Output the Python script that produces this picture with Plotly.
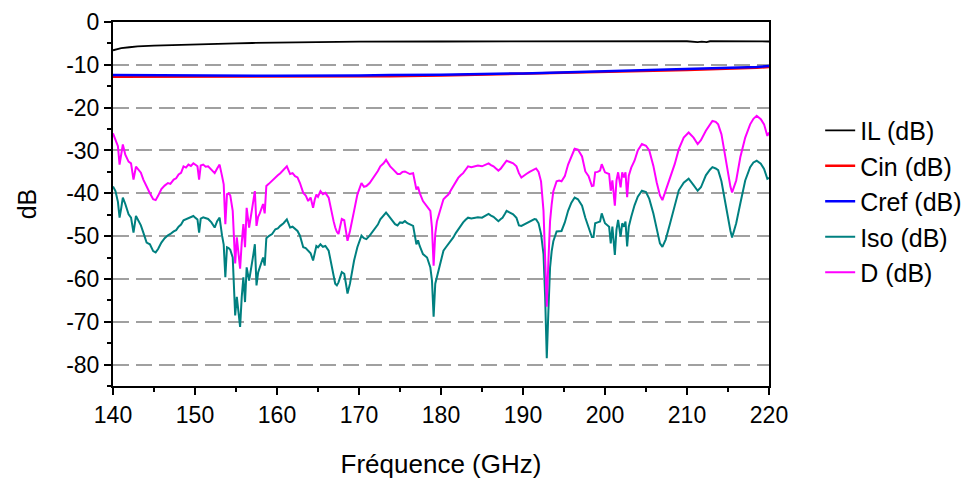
import plotly.graph_objects as go

# insertion loss (IL)
il_freq = [140.0, 140.5, 141.0, 142.0, 143.0, 145.0, 148.0, 152.0, 155.0, 157.0, 160.0,
           165.0, 170.0, 180.0, 190.0, 200.0, 210.0, 211.3, 211.8, 212.4, 212.8, 220.0]
il_db = [-6.6, -6.3, -6.1, -5.9, -5.7, -5.5, -5.3, -5.1, -5.0, -4.9, -4.8,
         -4.7, -4.6, -4.55, -4.5, -4.5, -4.5, -4.7, -4.6, -4.7, -4.5, -4.55]

# coupling (Cin / Cref)
c_freq = [140, 150, 160, 170, 173.8, 180, 190, 200, 210, 218.5, 220]
cin_db = [-12.8, -12.8, -12.75, -12.7, -12.65, -12.5, -12.1, -11.7, -11.2, -10.7, -10.5]
cref_db = [-12.4, -12.5, -12.55, -12.5, -12.35, -12.3, -12.0, -11.5, -11.0, -10.5, -10.3]

# isolation / directivity
freq = [140.0, 140.3, 140.6, 140.8, 141.0, 141.2, 141.5, 141.9, 142.2, 142.5, 142.8, 143.1,
        143.4, 143.7, 144.1, 144.5, 144.9, 145.2, 145.5, 145.9, 146.3, 146.7, 147.0, 147.4,
        147.7, 148.0, 148.3, 148.6, 148.9, 149.2, 149.5, 149.8, 150.1, 150.3, 150.5, 150.7,
        151.0, 151.3, 151.6, 152.0, 152.4, 152.7, 153.0, 153.3, 153.5, 153.7, 153.9, 154.1,
        154.3, 154.6, 154.9, 155.1, 155.3, 155.5, 155.7, 155.9, 156.1, 156.3, 156.6, 156.9,
        157.1, 157.3, 157.5, 157.7, 157.9, 158.1, 158.3, 158.5, 158.7, 159.0, 159.4, 159.8,
        160.1, 160.4, 160.8, 161.2, 161.6, 161.9, 162.2, 162.5, 162.8, 163.2, 163.5, 163.8,
        164.1, 164.4, 164.6, 164.8, 165.0, 165.3, 165.6, 165.9, 166.3, 166.6, 166.9, 167.1,
        167.3, 167.5, 167.9, 168.2, 168.4, 168.6, 168.9, 169.1, 169.4, 169.8, 170.0, 170.3,
        170.6, 170.9, 171.3, 171.6, 171.9, 172.3, 172.6, 173.0, 173.3, 173.6, 173.8, 174.1,
        174.4, 174.7, 175.0, 175.3, 175.6, 175.9, 176.2, 176.6, 177.0, 177.2, 177.4, 177.8,
        178.3, 178.7, 178.9, 179.1, 179.3, 179.5, 179.8, 180.0, 180.3, 180.6, 180.9, 181.2,
        181.5, 181.8, 182.1, 182.4, 182.7, 183.0, 183.3, 183.7, 184.1, 184.5, 185.0, 185.4,
        185.8, 186.1, 186.4, 186.7, 187.0, 187.3, 187.5, 187.8, 188.0, 188.4, 188.8, 189.2,
        189.5, 189.8, 190.1, 190.4, 190.8, 191.1, 191.4, 191.6, 191.9, 192.2, 192.5, 192.7,
        192.9, 193.1, 193.3, 193.5, 193.7, 194.1, 194.4, 194.7, 195.1, 195.5, 195.9, 196.3,
        196.7, 197.2, 197.6, 198.0, 198.4, 198.6, 198.8, 199.1, 199.4, 199.6, 200.0, 200.5,
        200.7, 200.9, 201.2, 201.4, 201.6, 201.9, 202.1, 202.3, 202.5, 202.7, 202.9, 203.2,
        203.6, 204.0, 204.5, 205.0, 205.4, 205.9, 206.3, 206.7, 207.0, 207.4, 207.9, 208.5,
        209.0, 209.6, 210.2, 210.8, 211.3, 211.7, 212.3, 212.8, 213.1, 213.5, 213.8, 214.2,
        214.6, 215.0, 215.3, 215.5, 216.0, 216.5, 217.1, 217.7, 218.1, 218.5, 219.0, 219.4,
        219.6, 219.8, 220.0]

d_db = [-26.0, -27.5, -29.0, -33.3, -30.5, -28.6, -31.0, -32.6, -33.0, -36.8, -33.8, -34.5,
        -35.2, -36.8, -38.5, -40.0, -41.4, -41.6, -40.6, -39.0, -38.2, -37.6, -37.8, -36.8,
        -36.5, -35.6, -35.2, -33.7, -34.0, -33.3, -33.6, -33.0, -33.4, -33.7, -36.8, -33.5,
        -33.3, -33.8, -33.7, -34.6, -35.3, -34.2, -33.3, -36.0, -37.9, -47.2, -40.2, -40.0,
        -40.5, -44.1, -56.4, -50.3, -53.4, -57.6, -51.5, -47.2, -52.6, -43.4, -48.0, -44.7,
        -42.0, -39.5, -47.6, -45.5, -44.7, -43.5, -42.5, -44.7, -38.3, -37.8, -37.0, -36.3,
        -35.8, -35.3, -34.5, -33.7, -35.5, -35.3, -36.0, -36.3, -37.6, -39.9, -40.5, -41.8,
        -41.0, -43.4, -41.5, -40.3, -40.8, -39.5, -40.2, -39.9, -41.0, -44.1, -46.5, -48.0,
        -49.0, -49.5, -46.0, -46.3, -48.5, -51.1, -48.8, -46.5, -44.1, -40.3, -39.2, -37.6,
        -38.5, -38.3, -37.6, -36.8, -35.7, -34.8, -33.7, -33.0, -32.2, -33.2, -33.7, -34.3,
        -34.9, -35.5, -35.5, -35.0, -34.9, -35.3, -35.5, -35.3, -39.1, -38.5, -39.9, -41.8,
        -43.0, -44.1, -48.0, -56.9, -49.5, -46.6, -44.6, -43.5, -41.4, -40.8, -40.3, -39.3,
        -38.3, -37.3, -36.4, -35.8, -35.3, -34.5, -33.7, -33.9, -33.7, -33.5, -33.7, -33.3,
        -33.0, -33.4, -33.7, -34.2, -34.7, -34.2, -33.7, -32.9, -32.4, -32.7, -33.0, -33.7,
        -35.3, -36.3, -35.8, -35.5, -35.0, -34.7, -34.4, -34.2, -35.0, -37.2, -44.1, -54.1,
        -66.5, -55.7, -46.5, -42.5, -39.5, -37.2, -37.0, -37.2, -36.0, -33.3, -31.4, -29.6,
        -29.8, -31.4, -34.9, -36.0, -38.3, -38.2, -35.1, -35.0, -34.7, -33.2, -35.1, -35.5,
        -39.4, -37.0, -42.9, -37.0, -35.1, -38.6, -35.1, -36.3, -35.1, -40.9, -35.9, -34.0,
        -32.4, -30.0, -28.5, -28.9, -30.0, -33.6, -37.4, -40.5, -41.6, -39.4, -36.3, -33.2,
        -29.7, -27.0, -25.8, -27.0, -28.5, -27.6, -25.4, -24.0, -23.1, -23.3, -23.9, -26.2,
        -30.9, -35.5, -38.5, -39.8, -37.0, -31.6, -27.0, -23.9, -22.6, -21.9, -22.7, -23.9,
        -25.5, -26.6, -25.8]

iso_db = [-38.4, -39.5, -42.0, -45.7, -43.5, -41.0, -42.5, -44.9, -45.7, -49.2, -45.3, -46.5,
          -47.5, -49.2, -51.5, -51.9, -53.5, -53.8, -53.0, -51.5, -50.5, -49.8, -49.5, -48.9,
          -48.6, -47.8, -47.3, -46.3, -46.0, -45.8, -45.5, -45.3, -45.8, -46.1, -49.2, -45.9,
          -45.6, -45.8, -46.0, -46.8, -48.0, -46.5, -45.7, -49.9, -52.0, -59.6, -52.6, -52.8,
          -53.2, -55.0, -68.5, -64.2, -67.3, -71.2, -64.2, -59.6, -65.4, -57.3, -60.4, -57.3,
          -54.5, -51.9, -61.5, -58.5, -57.3, -56.0, -55.0, -56.9, -50.5, -50.0, -49.5, -48.4,
          -48.2, -47.6, -47.0, -46.1, -48.0, -47.8, -48.4, -48.8, -49.9, -52.6, -52.8, -53.4,
          -54.0, -55.7, -53.5, -52.3, -52.6, -51.9, -52.5, -52.3, -53.4, -56.5, -59.5, -61.1,
          -61.5, -60.8, -58.4, -58.8, -61.0, -63.4, -61.1, -58.5, -55.7, -52.6, -51.5, -49.9,
          -50.5, -50.7, -49.9, -49.2, -48.4, -47.3, -46.1, -45.3, -44.5, -45.2, -45.7, -46.5,
          -47.2, -47.5, -46.8, -46.9, -46.5, -47.0, -47.2, -47.6, -51.9, -51.0, -52.3, -54.2,
          -55.0, -57.3, -60.4, -68.8, -61.1, -59.6, -56.9, -55.5, -53.4, -52.6, -51.9, -51.0,
          -50.3, -49.3, -48.4, -47.6, -46.8, -46.2, -45.7, -45.9, -45.7, -45.6, -45.7, -45.2,
          -44.8, -45.2, -45.5, -46.0, -46.5, -46.0, -45.7, -44.8, -44.1, -44.5, -44.9, -45.7,
          -47.5, -47.6, -47.3, -47.0, -46.6, -46.2, -46.0, -46.1, -47.0, -49.5, -54.2, -64.2,
          -78.5, -67.3, -57.3, -53.5, -51.2, -48.9, -48.8, -48.8, -46.8, -44.1, -42.2, -41.0,
          -41.4, -42.9, -45.7, -48.0, -50.2, -50.2, -47.0, -46.8, -46.6, -44.7, -47.0, -47.8,
          -51.7, -47.8, -54.4, -48.5, -46.2, -50.1, -47.0, -47.8, -46.6, -52.4, -47.8, -45.5,
          -42.8, -40.8, -39.4, -39.7, -41.3, -44.7, -48.6, -51.7, -52.5, -50.8, -47.3, -43.2,
          -39.3, -37.5, -36.6, -38.1, -39.4, -38.6, -35.8, -34.5, -33.9, -34.2, -34.6, -37.2,
          -41.8, -46.0, -48.8, -50.3, -47.0, -42.4, -37.0, -33.9, -32.8, -32.4, -33.1, -34.3,
          -35.8, -36.6, -36.4]

y_ticks = [0, -10, -20, -30, -40, -50, -60, -70, -80]
y_labels = ["0", "-10", "-20", "-30", "-40", "-50", "-60", "-70", "-80"]

FONT = "Liberation Sans, Arial, sans-serif"

fig = go.Figure()
series = [
    ("IL (dB)", il_freq, il_db, "#000000", 1.8),
    ("Cin (dB)", c_freq, cin_db, "#ff0000", 2.5),
    ("Cref (dB)", c_freq, cref_db, "#0000ff", 2.5),
    ("Iso (dB)", freq, iso_db, "#008080", 2),
    ("D (dB)", freq, d_db, "#ff00ff", 2),
]
for name, x, y, color, w in series:
    fig.add_trace(go.Scatter(x=x, y=y, name=name, mode="lines",
                             line=dict(color=color, width=w)))

# page body adds an 8px margin, so the figure is drawn 8px smaller
fig.update_layout(
    width=971, height=473,
    margin=dict(l=105, r=210, t=14, b=95, autoexpand=False),
    paper_bgcolor="white", plot_bgcolor="white",
    font=dict(family=FONT, color="black", size=23),
    showlegend=True,
    legend=dict(x=1.078, y=0.765, xanchor="left", yanchor="top",
                font=dict(size=25), bgcolor="rgba(0,0,0,0)"),
)
fig.update_xaxes(
    range=[140, 220], dtick=10, tick0=140, automargin=False,
    ticklabeloverflow="allow",
    showline=True, linecolor="black", linewidth=2, mirror=True,
    ticks="outside", ticklen=7, tickwidth=2, tickcolor="black",
    minor=dict(dtick=5, ticks="outside", ticklen=4, tickcolor="black", showgrid=False),
    showgrid=False, zeroline=False,
    title=dict(text="Fréquence (GHz)", font=dict(size=26), standoff=28),
)
fig.update_yaxes(
    range=[-85, 0], tickvals=y_ticks, ticktext=y_labels, automargin=False,
    ticklabeloverflow="allow",
    showline=True, linecolor="black", linewidth=2, mirror=True,
    ticks="outside", ticklen=7, tickwidth=2, tickcolor="black",
    minor=dict(dtick=5, tick0=0, ticks="outside", ticklen=4, tickcolor="black", showgrid=False),
    showgrid=True, gridcolor="#a0a0a0", gridwidth=1.5, griddash="16px,7px",
    zeroline=False,
    title=dict(text="dB", font=dict(size=25), standoff=22),
)

fig.write_html("out.html")
